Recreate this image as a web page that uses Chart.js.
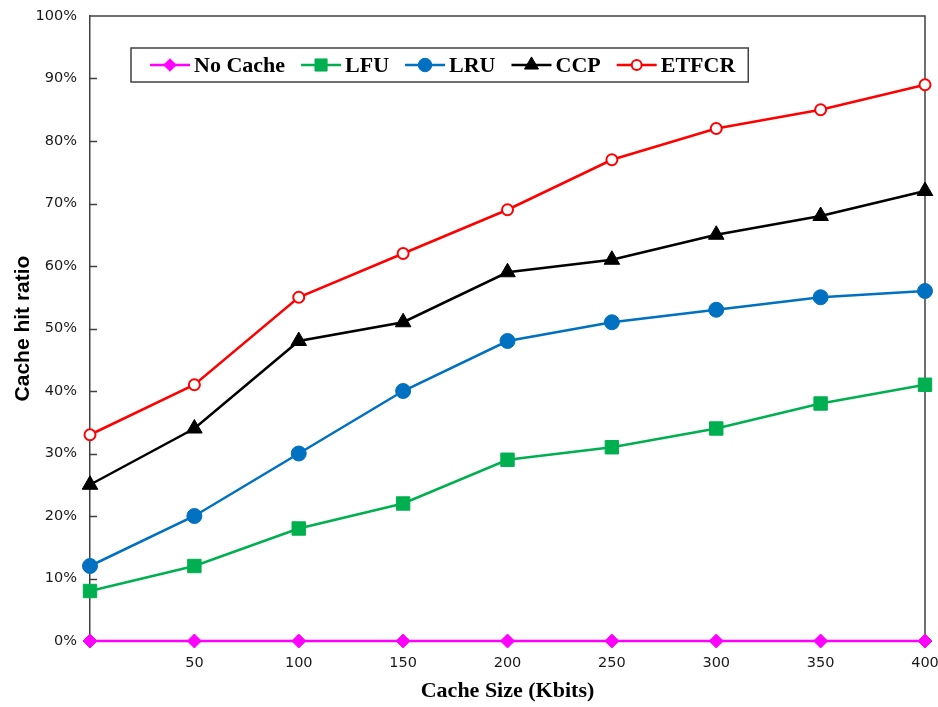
<!DOCTYPE html>
<html>
<head>
<meta charset="utf-8">
<script src="https://cdn.jsdelivr.net/npm/chart.js@4.4.1/dist/chart.umd.min.js"></script>
<style>
html,body{margin:0;padding:0;background:#fff;}
#wrap{width:938px;height:707px;}
</style>
</head>
<body>
<div id="wrap"><canvas id="c" width="938" height="707"></canvas></div>
<script>
const categories = ['', '50', '100', '150', '200', '250', '300', '350', '400'];
const yTickLabels = ['0%', '10%', '20%', '30%', '40%', '50%', '60%', '70%', '80%', '90%', '100%'];
const seriesNames = ['No Cache', 'LFU', 'LRU', 'CCP', 'ETFCR'];
const noCache = [0, 0, 0, 0, 0, 0, 0, 0, 0];
const lfu = [8, 12, 18, 22, 29, 31, 34, 38, 41];
const lru = [12, 20, 30, 40, 48, 51, 53, 55, 56];
const ccp = [25, 34, 48, 51, 59, 61, 65, 68, 72];
const etfcr = [33, 41, 55, 62, 69, 77, 82, 85, 89];

const styles = [
  {color:'#FF00FF', fill:'#FF00FF', pointStyle:'rectRot', radius:7, pbw:1},
  {color:'#00B050', fill:'#00B050', pointStyle:'rect', radius:9.5, pbw:1},
  {color:'#0070C0', fill:'#0070C0', pointStyle:'circle', radius:7.5, pbw:1},
  {color:'#000000', fill:'#000000', pointStyle:'triangle', radius:9, pbw:1},
  {color:'#FF0000', fill:'#FFFFFF', pointStyle:'circle', radius:5.5, pbw:2}
];
const values = [noCache, lfu, lru, ccp, etfcr];

const datasets = values.map((v, i) => ({
  label: seriesNames[i],
  data: v,
  borderColor: styles[i].color,
  backgroundColor: styles[i].fill,
  borderWidth: 2.5,
  pointStyle: styles[i].pointStyle,
  pointRadius: styles[i].radius,
  pointHoverRadius: styles[i].radius,
  pointBackgroundColor: styles[i].fill,
  pointBorderColor: styles[i].color,
  pointBorderWidth: styles[i].pbw,
  tension: 0,
  fill: false,
  clip: false,
  order: 4 - i
}));

const frameAndTicks = {
  id: 'frameAndTicks',
  beforeDatasetsDraw(chart) {
    const {ctx, chartArea: a, scales} = chart;
    ctx.save();
    ctx.strokeStyle = '#404040';
    ctx.lineWidth = 1.5;
    ctx.beginPath();
    ctx.moveTo(a.left, a.top);
    ctx.lineTo(a.right, a.top);
    ctx.lineTo(a.right, a.bottom);
    ctx.stroke();
    ctx.beginPath();
    for (let v = 10; v < 100; v += 10) {
      const y = Math.round(scales.y.getPixelForValue(v)) + 0.5;
      ctx.moveTo(a.left, y);
      ctx.lineTo(a.left + 7, y);
    }
    ctx.stroke();
    ctx.restore();
  }
};

function drawMarker(ctx, st, x, y) {
  const opts = {pointStyle: st.pointStyle, radius: st.radius * 0.9, rotation: 0, borderWidth: st.pbw};
  ctx.fillStyle = st.fill;
  ctx.strokeStyle = st.color;
  ctx.lineWidth = st.pbw;
  Chart.helpers.drawPoint(ctx, opts, x, y);
}

const customLegend = {
  id: 'customLegend',
  afterDatasetsDraw(chart) {
    const {ctx, chartArea: a} = chart;
    ctx.save();
    ctx.font = 'bold 22px "Liberation Serif", "Times New Roman", serif';
    ctx.textBaseline = 'middle';
    const cy = a.top + 49;
    let x = a.left + 60;
    const startX = x;
    const lineLen = 40;
    const items = [];
    seriesNames.forEach((name, i) => {
      const w = ctx.measureText(name).width;
      items.push({x, w});
      x += lineLen + 4 + w + 16;
    });
    const endX = x - 16;
    ctx.strokeStyle = '#404040';
    ctx.lineWidth = 1.5;
    ctx.strokeRect(startX - 19, cy - 17, endX - startX + 32, 34);
    seriesNames.forEach((name, i) => {
      const st = styles[i];
      const it = items[i];
      ctx.strokeStyle = st.color;
      ctx.lineWidth = 2.5;
      ctx.beginPath();
      ctx.moveTo(it.x, cy);
      ctx.lineTo(it.x + lineLen, cy);
      ctx.stroke();
      drawMarker(ctx, st, it.x + lineLen / 2, cy);
      ctx.fillStyle = '#000';
      ctx.textAlign = 'left';
      ctx.fillText(name, it.x + lineLen + 4, cy + 1);
    });
    ctx.restore();
  }
};

new Chart(document.getElementById('c'), {
  type: 'line',
  data: {labels: categories, datasets},
  options: {
    responsive: false,
    animation: false,
    devicePixelRatio: 1,
    layout: {padding: {left: 0, right: 13, top: 16, bottom: 0}},
    plugins: {legend: {display: false}, tooltip: {enabled: false}},
    scales: {
      x: {
        type: 'category',
        offset: false,
        grid: {display: false, drawTicks: false},
        border: {display: true, color: '#404040', width: 1.5},
        ticks: {
          padding: 14,
          color: '#1a1a1a',
          font: {family: '"DejaVu Sans", sans-serif', size: 14.5},
          maxRotation: 0, autoSkip: false
        },
        title: {
          display: true,
          text: 'Cache Size (Kbits)',
          color: '#000',
          font: {family: '"Liberation Serif", "Times New Roman", serif', size: 22, weight: 'bold'},
          padding: {top: 0, bottom: 2}
        },
        afterFit(s) { s.height = 66; s.paddingLeft = 0; s.paddingRight = 0; }
      },
      y: {
        min: 0, max: 100,
        grid: {display: false, drawTicks: false},
        border: {display: true, color: '#404040', width: 1.5},
        ticks: {
          stepSize: 10,
          padding: 13,
          color: '#1a1a1a',
          font: {family: '"DejaVu Sans", sans-serif', size: 14.5},
          callback: (v) => yTickLabels[Math.round(v / 10)]
        },
        title: {
          display: true,
          text: 'Cache hit ratio',
          color: '#000',
          font: {family: '"Liberation Sans", Arial, sans-serif', size: 21, weight: 'bold'},
          padding: {top: 11, bottom: 0}
        },
        afterFit(s) { s.width = 90; s.paddingTop = 0; s.paddingBottom = 0; }
      }
    }
  },
  plugins: [frameAndTicks, customLegend]
});
</script>
</body>
</html>
